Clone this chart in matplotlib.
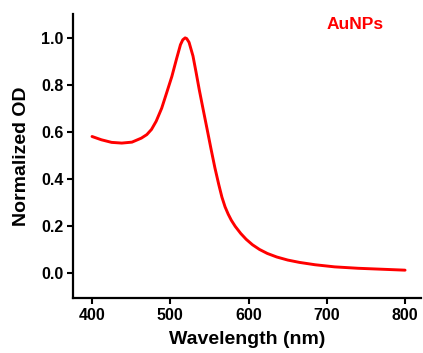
import numpy as np
import matplotlib
matplotlib.use('Agg')
import matplotlib.pyplot as plt

plt.rcParams['font.family'] = ['Liberation Sans', 'DejaVu Sans']

# Spectrum (wavelength in nm, normalized OD)
wavelength = [400, 412, 425, 438, 451, 463, 470, 476, 482, 489, 495, 502,
              508, 513, 516, 519, 521, 524, 529, 533, 537, 542, 547, 552,
              557, 562, 566, 570, 574, 578, 583, 590, 597, 605, 614, 624,
              636, 650, 665, 685, 710, 740, 770, 800]
od = [0.580, 0.566, 0.555, 0.552, 0.556, 0.573, 0.588, 0.610, 0.645, 0.700,
      0.762, 0.835, 0.910, 0.970, 0.991, 0.999, 0.996, 0.980, 0.922, 0.852,
      0.779, 0.695, 0.612, 0.528, 0.447, 0.375, 0.322, 0.281, 0.250, 0.224,
      0.198, 0.168, 0.143, 0.120, 0.100, 0.083, 0.068, 0.055, 0.045, 0.035,
      0.026, 0.020, 0.016, 0.012]

xticks = [400, 500, 600, 700, 800]
yticks = [0.0, 0.2, 0.4, 0.6, 0.8, 1.0]

fig = plt.figure(figsize=(4.23, 3.53), dpi=100)
ax = fig.add_axes([0.1726, 0.156, 0.822, 0.804])

ax.plot(wavelength, od, color='#ff0000', linewidth=2.1,
        solid_joinstyle='round', solid_capstyle='round')

ax.set_xlim(375.7, 820)
ax.set_ylim(-0.106, 1.10)
ax.set_xticks(xticks)
ax.set_yticks(yticks)
ax.set_yticklabels([f'{v:.1f}' for v in yticks])

for side in ('top', 'right'):
    ax.spines[side].set_visible(False)
for side in ('left', 'bottom'):
    ax.spines[side].set_linewidth(1.6)

ax.tick_params(axis='both', direction='out', length=4, width=1.5,
               labelsize=11.5, pad=3)
for lbl in ax.get_xticklabels() + ax.get_yticklabels():
    lbl.set_fontweight('bold')

ax.set_xlabel('Wavelength (nm)', fontsize=14, fontweight='bold', labelpad=6)
ax.set_ylabel('Normalized OD', fontsize=14, fontweight='bold', labelpad=8)

ax.text(0.81, 0.965, 'AuNPs', transform=ax.transAxes, color='#ff0000',
        fontsize=12.5, fontweight='bold', ha='center', va='center')

fig.savefig('out.png', dpi=100)
